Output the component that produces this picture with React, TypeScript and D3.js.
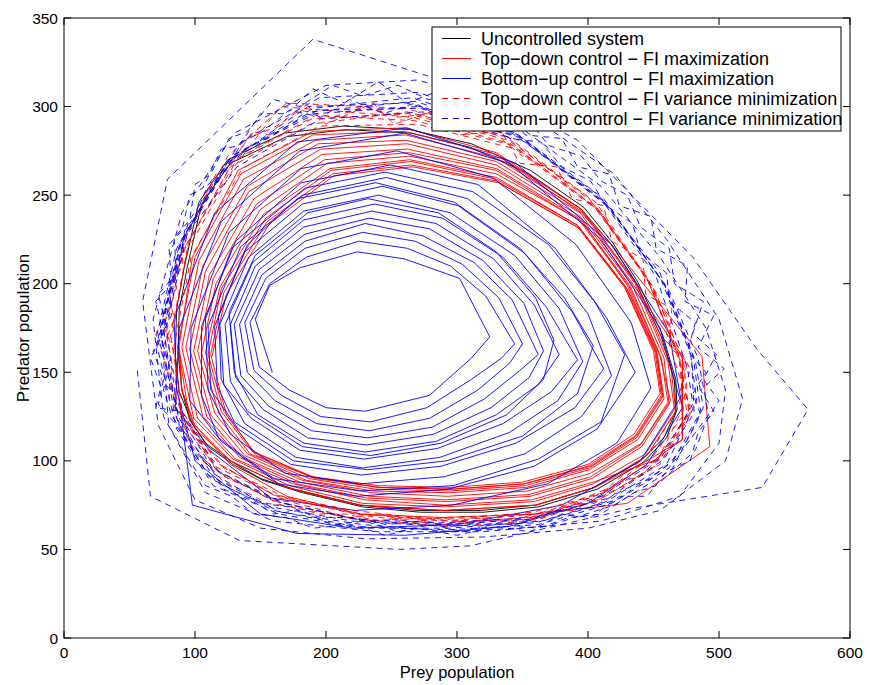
import React from 'react';
import * as d3 from 'd3';

const X_TICKS = [0, 100, 200, 300, 400, 500, 600];
const Y_TICKS = [0, 50, 100, 150, 200, 250, 300, 350];

// Each loop is a flat list of (prey, predator) pairs
const uncontrolled: number[][] = [
  [96,123, 108,110, 127,100, 150,90, 180,83, 226,75, 270,72, 318,72, 360,75, 405,85, 440,100, 458,113, 467,128, 466,145, 456,170, 437,200, 418,222, 395,242, 355,262, 310,277, 265,285, 215,287, 170,283, 127,268, 105,245, 94,209, 88,185, 87,161, 90,140, 96,123],
  [98,121, 110,108, 129,98, 152,89, 182,82, 228,74, 272,71, 320,71, 362,74, 407,84, 442,99, 460,113, 468,129, 467,146, 457,171, 438,201, 419,223, 397,243, 356,264, 311,279, 264,287, 213,289, 168,285, 125,270, 103,246, 92,210, 86,186, 85,160, 88,139, 98,121],
];

const topDownMax: number[][] = [
  [330,273, 395,240, 417,223, 487,159, 493,108, 430,76, 360,70, 290,68, 226,70, 170,80, 127,98, 100,120, 90,140, 88,165, 98,215, 133,264, 190,286, 260,288, 330,274, 395,242, 437,200, 456,170, 472,159, 472,112, 445,100, 405,85, 360,75, 290,72, 226,75, 170,85, 127,100, 100,118, 90,140, 87,165],
  [96,123, 127,100, 170,85, 226,75, 290,72, 360,75, 405,85, 445,103, 467,128, 463,155, 437,200, 395,242, 330,273, 260,286, 190,284, 135,262, 100,215, 87,165],
  [99,124, 129,101, 172,86, 228,76, 291,74, 359,77, 404,87, 444,104, 466,129, 461,156, 436,200, 395,241, 330,271, 261,284, 192,281, 137,259, 103,213, 90,164],
  [102,124, 131,101, 175,87, 230,78, 291,75, 357,78, 404,88, 450,100, 472,112, 472,159, 435,199, 394,240, 330,269, 261,281, 194,279, 140,255, 106,210, 93,164],
  [106,125, 134,102, 178,87, 231,79, 292,77, 356,80, 403,90, 441,108, 462,132, 458,158, 434,199, 394,238, 330,267, 262,279, 196,276, 141,252, 108,207, 96,163],
  [109,125, 136,102, 180,88, 233,80, 292,78, 355,81, 402,91, 440,109, 461,133, 456,158, 432,199, 393,237, 330,265, 262,276, 197,273, 145,248, 111,205, 99,162],
  [112,126, 138,103, 182,89, 235,82, 293,80, 354,83, 402,93, 441,110, 463,134, 455,159, 431,199, 393,236, 330,264, 263,274, 199,270, 147,245, 114,203, 102,162],
  [115,127, 140,104, 185,89, 236,83, 294,82, 353,85, 401,95, 438,112, 458,135, 453,160, 430,199, 396,235, 330,262, 264,272, 201,268, 150,242, 116,200, 105,161],
  [118,127, 142,104, 187,90, 238,84, 294,83, 352,86, 401,96, 437,113, 457,136, 452,161, 429,198, 392,233, 330,260, 264,270, 203,265, 152,239, 119,198, 108,161],
  [120,128, 144,105, 189,91, 239,85, 295,84, 351,87, 400,97, 436,114, 456,137, 451,162, 428,198, 392,233, 330,259, 265,269, 204,264, 154,237, 120,197, 110,160],
  [122,128, 145,105, 190,91, 240,86, 295,85, 350,88, 400,98, 435,115, 455,138, 450,162, 428,198, 392,232, 330,258, 265,267, 205,262, 155,235, 122,195, 112,160],
  [124,126, 147,103, 192,90, 242,85, 297,84, 352,87, 402,97, 437,114, 457,137, 452,163, 430,197, 394,231, 332,257, 266,266, 206,261, 157,234, 124,194, 113,159],
];

const bottomUpMax: number[][] = [
  [88,135, 98,75, 178,59, 260,58, 340,63, 400,76, 445,98, 472,130, 462,172, 418,222, 345,268, 262,288, 178,280, 115,240, 84,180, 86,140],
  [100,100, 150,70, 220,62, 300,64, 380,75, 440,100, 470,135, 455,175, 410,225, 340,268, 260,285, 180,275, 120,235, 88,175, 85,130],
  [111,106, 158,79, 222,72, 296,75, 369,87, 422,110, 448,141, 433,178, 391,222, 327,260, 254,275, 181,265, 126,229, 97,175, 96,134],
  [120,111, 164,87, 224,80, 293,84, 359,97, 407,118, 436,150, 414,181, 375,220, 316,256, 249,267, 181,257, 131,224, 105,176, 105,137],
  [118,113, 160,90, 226,83, 297,86, 362,101, 410,122, 428,160, 405,190, 370,222, 312,252, 245,263, 184,254, 128,220, 108,180, 110,140],
  [127,115, 169,93, 226,87, 290,91, 352,104, 395,125, 418,148, 400,183, 362,219, 308,248, 246,260, 182,250, 135,221, 110,176, 112,140],
  [133,118, 173,98, 227,92, 288,97, 345,110, 390,130, 412,152, 388,184, 352,217, 301,244, 243,255, 182,245, 138,218, 115,176, 117,142],
  [130,122, 175,100, 232,95, 292,100, 350,114, 392,138, 404,165, 382,192, 348,220, 298,246, 238,257, 178,248, 140,222, 118,182, 120,146],
  [138,121, 177,102, 228,96, 287,102, 340,116, 377,134, 396,156, 378,186, 344,216, 295,240, 240,250, 183,241, 141,215, 119,177, 122,143],
  [143,124, 180,106, 229,101, 285,107, 335,121, 372,139, 392,157, 368,187, 335,215, 289,237, 237,245, 183,236, 144,212, 123,177, 127,145],
  [140,128, 182,108, 234,103, 288,110, 338,126, 366,146, 374,168, 360,192, 330,218, 286,240, 232,248, 186,240, 146,216, 126,184, 130,150],
  [148,126, 183,110, 230,105, 284,111, 330,126, 362,143, 378,160, 359,188, 328,214, 284,234, 235,241, 183,232, 146,210, 127,177, 131,147],
  [152,129, 186,113, 231,109, 282,115, 326,130, 355,147, 366,162, 351,189, 320,213, 279,231, 233,237, 184,228, 149,208, 130,177, 135,148],
  [156,131, 189,117, 232,113, 281,119, 321,135, 348,151, 362,160, 342,191, 313,212, 274,227, 230,234, 184,224, 151,205, 134,177, 140,150],
  [161,134, 193,121, 233,117, 279,124, 316,140, 340,155, 350,166, 332,192, 304,211, 268,224, 228,229, 184,220, 154,203, 138,178, 145,151],
  [166,137, 196,125, 234,122, 277,130, 311,146, 334,158, 344,166, 322,193, 295,210, 262,220, 225,224, 185,215, 157,200, 142,178, 149,153],
  [172,140, 200,130, 230,128, 279,137, 311,158, 325,170, 302,203, 260,214, 224,218, 180,209, 157,199, 146,180, 159,150],
];

const topDownVar: number[][] = [
  [88,128, 115,97, 163,80, 222,70, 292,67, 358,71, 412,82, 450,103, 473,126, 470,158, 445,203, 402,247, 337,283, 262,297, 188,290, 127,266, 95,223, 82,168],
  [92,120, 120,92, 168,76, 228,66, 288,68, 362,70, 408,78, 455,98, 478,130, 468,152, 450,197, 408,242, 343,278, 268,292, 192,295, 133,271, 90,218, 78,172],
  [92,118, 100,104, 112,96, 122,88, 140,82, 155,76, 175,74, 195,70, 215,70, 240,66, 262,68, 290,64, 315,68, 340,66, 365,71, 388,72, 410,80, 428,86, 445,95, 460,104, 470,116, 478,126, 474,140, 478,152, 466,168, 460,182, 448,198, 438,210, 420,228, 410,240, 390,252, 372,264, 350,272, 330,284, 305,288, 280,296, 255,294, 230,300, 205,294, 180,298, 160,288, 140,282, 128,268, 112,258, 104,240, 92,228, 90,210, 80,196, 84,180, 76,165, 82,150, 80,135],
  [86,130, 114,100, 160,81, 220,72, 294,66, 356,67, 414,84, 448,105, 470,132, 474,150, 444,205, 400,249, 335,285, 260,299, 170,302, 125,272, 92,226, 76,175],
  [86,124, 98,108, 108,100, 125,90, 138,86, 158,78, 172,77, 198,72, 218,68, 242,70, 265,65, 288,68, 312,64, 338,69, 362,67, 385,75, 405,76, 425,88, 442,92, 458,106, 466,112, 480,130, 470,138, 476,156, 462,164, 464,186, 444,194, 442,214, 418,224, 412,244, 388,248, 376,266, 348,268, 334,286, 302,284, 284,298, 252,290, 236,302, 200,290, 184,302, 156,284, 144,286, 124,264, 116,262, 100,236, 96,232, 84,206, 86,198, 76,176, 84,162, 74,146, 84,138],
  [95,122, 122,96, 170,79, 230,69, 287,64, 365,69, 405,80, 453,101, 476,125, 469,160, 452,195, 410,240, 345,276, 270,290, 195,289, 136,265, 97,215, 84,165],
  [89,127, 117,94, 166,75, 224,67, 291,63, 359,66, 411,79, 451,97, 472,129, 471,154, 447,201, 406,246, 339,281, 263,296, 189,293, 129,269, 93,221, 70,171],
  [91,124, 119,98, 164,79, 227,70, 289,66, 361,70, 409,81, 454,102, 477,127, 473,156, 449,199, 404,244, 341,279, 266,294, 165,300, 131,267, 94,219, 81,169],
];

const bottomUpVar: number[][] = [
  [56,151, 66,80, 134,55, 256,50, 310,52, 432,73, 533,85, 568,129, 529,163, 480,215, 392,281, 340,302, 283,316, 190,338, 79,259, 60,190],
  [72,120, 100,78, 150,62, 230,56, 320,57, 400,62, 455,72, 505,100, 518,135, 500,180, 460,225, 420,262, 350,298, 270,315, 200,312, 130,285, 90,240, 68,180],
  [76,125, 108,82, 160,66, 240,60, 320,60, 410,66, 470,80, 500,110, 505,140, 490,175, 455,215, 410,255, 345,290, 270,308, 195,305, 135,280, 95,235, 74,175],
  [80,120, 96,100, 108,86, 128,80, 145,70, 170,68, 190,62, 220,64, 245,58, 270,62, 300,58, 330,63, 355,60, 385,68, 410,70, 435,82, 452,86, 470,98, 482,106, 490,122, 500,134, 488,146, 498,160, 480,172, 488,190, 466,200, 462,220, 440,232, 430,250, 410,258, 395,272, 370,278, 355,292, 325,294, 305,306, 278,304, 255,312, 228,306, 205,312, 180,300, 160,304, 140,286, 126,282, 112,262, 100,256, 96,236, 84,226, 86,206, 72,194, 78,176, 68,162, 76,146, 72,132],
  [84,122, 112,90, 160,72, 222,63, 292,61, 362,64, 418,76, 462,96, 486,128, 480,160, 458,200, 414,245, 348,283, 270,300, 192,296, 128,272, 90,225, 74,172],
  [84,128, 94,110, 112,96, 122,84, 142,78, 160,70, 180,72, 205,64, 230,66, 255,60, 280,64, 305,60, 332,65, 360,62, 380,70, 402,68, 424,80, 445,80, 460,94, 478,100, 484,116, 496,128, 486,140, 504,152, 484,164, 496,182, 474,190, 476,210, 452,220, 448,238, 424,244, 416,262, 392,266, 380,282, 352,284, 336,300, 310,296, 290,310, 262,302, 240,314, 214,302, 190,310, 170,296, 150,296, 134,278, 120,276, 106,254, 96,250, 90,230, 80,222, 82,200, 70,190, 76,172, 66,158, 74,142, 70,130],
  [90,128, 118,94, 168,76, 230,66, 286,64, 356,67, 410,80, 456,102, 480,132, 476,152, 452,204, 408,250, 340,286, 262,302, 186,300, 124,268, 86,220, 70,168],
  [86,118, 114,86, 164,70, 226,62, 295,62, 365,66, 422,78, 466,100, 492,126, 484,158, 462,196, 418,242, 352,280, 274,297, 196,293, 132,266, 94,228, 78,176],
  [88,120, 104,104, 116,92, 134,84, 150,76, 172,74, 196,68, 222,68, 246,64, 272,66, 298,63, 326,66, 352,66, 378,72, 404,74, 428,84, 448,90, 464,100, 476,112, 486,126, 480,138, 490,150, 476,162, 482,178, 462,190, 460,206, 440,218, 434,234, 414,244, 402,258, 380,266, 364,280, 340,282, 318,294, 292,292, 268,302, 244,296, 218,304, 196,294, 172,298, 152,286, 136,280, 122,262, 110,256, 100,238, 92,230, 88,210, 80,200, 82,182, 74,170, 80,154, 76,140],
  [82,126, 110,92, 158,74, 220,66, 290,63, 360,65, 414,77, 460,98, 483,134, 478,162, 455,206, 411,247, 345,285, 266,305, 190,299, 126,270, 88,222, 72,170],
  [88,124, 116,88, 166,71, 228,64, 298,60, 368,63, 420,75, 464,95, 488,130, 482,156, 460,198, 416,243, 350,282, 272,299, 194,298, 130,273, 92,226, 76,174],
  [85,130, 113,96, 162,77, 224,67, 288,65, 358,68, 416,79, 458,101, 481,127, 479,159, 456,202, 412,248, 347,284, 268,303, 188,297, 127,269, 89,224, 73,171],
];

const LEGEND_LABELS = [
  'Uncontrolled system',
  'Top\u2212down control \u2212 FI maximization',
  'Bottom\u2212up control \u2212 FI maximization',
  'Top\u2212down control \u2212 FI variance minimization',
  'Bottom\u2212up control \u2212 FI variance minimization',
];
const LEGEND_COLORS = ['#000000', '#ff0000', '#0000ff', '#ff0000', '#0000ff'];
const LEGEND_DASHED = [false, false, false, true, true];

type P = [number, number];
function toPairs(loops: number[][]): P[] {
  const out: P[] = [];
  loops.forEach((l) => {
    for (let i = 0; i + 1 < l.length; i += 2) out.push([l[i], l[i + 1]]);
  });
  return out;
}

export default function App() {
  const W = 870, H = 685;
  const L = 64, R = 850, T = 18, B = 638;
  const x = d3.scaleLinear().domain([0, 600]).range([L, R]);
  const y = d3.scaleLinear().domain([0, 350]).range([B, T]);
  const line = d3.line<P>().x((d) => x(d[0])).y((d) => y(d[1]));
  const font = '"Liberation Sans", Arial, Helvetica, sans-serif';
  const dash = '6,5';
  const sw = 0.9;

  const blackPaths = uncontrolled.map((l) => line(toPairs([l])) || '');
  const redSolid = line(toPairs(topDownMax)) || '';
  const blueSolid = line(toPairs(bottomUpMax)) || '';
  const redDash = line(toPairs(topDownVar)) || '';
  const blueDash = line(toPairs(bottomUpVar)) || '';

  const tick = 7;
  return (
    <svg width={W} height={H} style={{ position: 'absolute', left: 0, top: 0, background: '#fff' }} fontFamily={font}>
      <rect x={0} y={0} width={W} height={H} fill="#fff" />
      <defs>
        <clipPath id="plot"><rect x={L} y={T} width={R - L} height={B - T} /></clipPath>
      </defs>
      <g clipPath="url(#plot)" fill="none" strokeLinejoin="round">
        {blackPaths.map((d, i) => <path key={i} d={d} stroke="#000" strokeWidth={sw} />)}
        <path d={redSolid} stroke="#ff0000" strokeWidth={sw} />
        <path d={blueSolid} stroke="#0000ff" strokeWidth={sw} />
        <path d={redDash} stroke="#ff0000" strokeWidth={sw} strokeDasharray={dash} />
        <path d={blueDash} stroke="#0000ff" strokeWidth={sw} strokeDasharray={dash} />
      </g>
      <rect x={L} y={T} width={R - L} height={B - T} fill="none" stroke="#000" strokeWidth={1} />
      {X_TICKS.map((t) => (
        <g key={'x' + t}>
          <line x1={x(t)} x2={x(t)} y1={B} y2={B - tick} stroke="#000" />
          <line x1={x(t)} x2={x(t)} y1={T} y2={T + tick} stroke="#000" />
          <text x={x(t)} y={B + 20} fontSize={15.5} textAnchor="middle">{t}</text>
        </g>
      ))}
      {Y_TICKS.map((t) => (
        <g key={'y' + t}>
          <line x1={L} x2={L + tick} y1={y(t)} y2={y(t)} stroke="#000" />
          <line x1={R} x2={R - tick} y1={y(t)} y2={y(t)} stroke="#000" />
          <text x={L - 6} y={y(t) + 5.5} fontSize={15.5} textAnchor="end">{t}</text>
        </g>
      ))}
      <text x={(L + R) / 2} y={678} fontSize={16.5} textAnchor="middle">Prey population</text>
      <text transform={`translate(29,${(T + B) / 2}) rotate(-90)`} fontSize={17} textAnchor="middle">Predator population</text>
      <g>
        <rect x={432} y={27} width={409} height={104} fill="#fff" stroke="#000" strokeWidth={1} />
        {LEGEND_LABELS.map((lab, i) => {
          const cy = 38.5 + i * 20;
          return (
            <g key={lab}>
              <line x1={442} x2={471} y1={cy} y2={cy} stroke={LEGEND_COLORS[i]} strokeWidth={1} strokeDasharray={LEGEND_DASHED[i] ? dash : undefined} />
              <text x={481} y={cy + 6} fontSize={18}>{lab}</text>
            </g>
          );
        })}
      </g>
    </svg>
  );
}
